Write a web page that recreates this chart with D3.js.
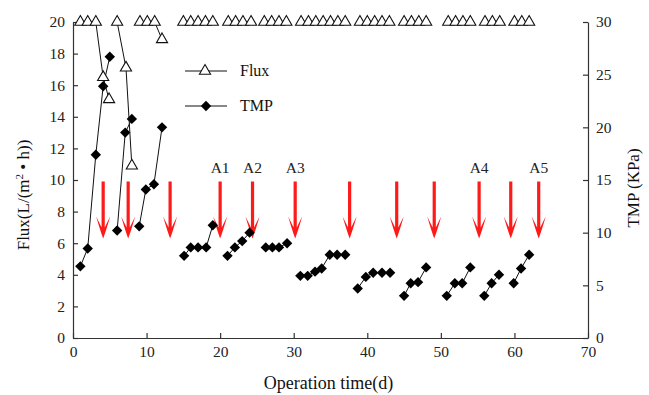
<!DOCTYPE html>
<html>
<head>
<meta charset="utf-8">
<script src="https://cdn.jsdelivr.net/npm/d3@7/dist/d3.min.js"></script>
<style>
  html, body { margin: 0; padding: 0; background: #fff; }
  svg { display: block; font-family: "Liberation Serif", "Times New Roman", serif; }
</style>
</head>
<body>
<svg id="chart" width="649" height="395"></svg>
<script>
/* Flux (left axis) and TMP (right axis) over operation time,
   with red arrows marking cleaning events. */

// Flux, L/(m2 h) — one list per filtration run: [day, flux]
var fluxRuns = [
  [[1, 20], [2, 20], [3.1, 20], [4.1, 16.5], [4.9, 15.1]],
  [[6, 20], [7.2, 17.1], [8, 10.9]],
  [[9.1, 20], [10.1, 20], [11.1, 20], [12.1, 18.9]],
  [[15, 20], [16, 20], [17, 20], [18, 20], [19, 20]],
  [[21.1, 20], [22.1, 20], [23.1, 20], [24.2, 20]],
  [[26, 20], [27, 20], [28, 20], [29, 20]],
  [[31, 20], [32, 20], [33, 20], [34, 20], [35, 20], [36, 20], [37, 20]],
  [[39, 20], [40, 20], [41, 20], [42, 20], [43, 20]],
  [[45, 20], [46, 20], [47, 20], [48, 20]],
  [[51, 20], [52, 20], [53, 20], [54, 20]],
  [[56, 20], [57, 20], [58, 20]],
  [[60, 20], [61, 20], [62, 20]]
];

// TMP, KPa — one list per filtration run: [day, tmp]
var tmpRuns = [
  [[1, 6.8], [2, 8.5], [3.1, 17.4], [4.1, 23.9], [5, 26.7]],
  [[6, 10.2], [7.1, 19.5], [8, 20.8]],
  [[9, 10.6], [9.9, 14.1], [11, 14.6], [12.1, 20.0]],
  [[15.1, 7.8], [16, 8.6], [17, 8.6], [18.1, 8.6], [19, 10.7]],
  [[21, 7.8], [22, 8.6], [23, 9.2], [24, 10.0]],
  [[26.2, 8.6], [27.1, 8.6], [28, 8.6], [29.1, 9.0]],
  [[30.9, 5.9], [31.9, 5.9], [32.9, 6.3], [33.8, 6.6], [34.9, 7.9], [35.9, 7.9], [37, 7.9]],
  [[38.7, 4.7], [39.8, 5.8], [40.8, 6.2], [42, 6.2], [43.1, 6.2]],
  [[45, 4.0], [45.9, 5.2], [46.9, 5.3], [48, 6.7]],
  [[50.8, 4.0], [51.9, 5.2], [52.9, 5.2], [54, 6.7]],
  [[55.9, 4.0], [56.9, 5.2], [57.9, 6.0]],
  [[59.9, 5.2], [60.9, 6.6], [62, 7.9]]
];

// cleaning arrows: day and optional label
var arrowDays   = [4.1, 7.5, 13.2, 20, 24.4, 30.2, 37.6, 44.0, 49.1, 55.2, 59.5, 63.3];
var arrowLabels = ['', '', '', 'A1', 'A2', 'A3', '', '', '', 'A4', '', 'A5'];
var arrowTop = 9.9, arrowTip = 6.3;   // in flux units

var xTicks    = [0, 10, 20, 30, 40, 50, 60, 70];
var fluxTicks = [0, 2, 4, 6, 8, 10, 12, 14, 16, 18, 20];
var tmpTicks  = [0, 5, 10, 15, 20, 25, 30];

var svg = d3.select('#chart');
var L = 73, R = 588, T = 22, B = 338;

var x  = d3.scaleLinear().domain([0, 70]).range([L, R]);
var yF = d3.scaleLinear().domain([0, 20]).range([B, T]);
var yT = d3.scaleLinear().domain([0, 30]).range([B, T]);

/* axes */
var axisColor = '#333';
function styleAxis(g) {
  g.select('.domain').attr('stroke', axisColor).attr('stroke-width', 1.2);
  g.selectAll('.tick line').attr('stroke', axisColor).attr('stroke-width', 1.2);
  g.selectAll('.tick text').attr('fill', '#222').style('font-size', '15.5px')
    .style('font-family', '"Liberation Serif", serif');
}

svg.append('g').attr('transform', 'translate(0,' + B + ')')
  .call(d3.axisBottom(x).tickValues(xTicks).tickSizeInner(-5).tickSizeOuter(0).tickPadding(8))
  .call(styleAxis);

svg.append('g').attr('transform', 'translate(' + L + ',0)')
  .call(d3.axisLeft(yF).tickValues(fluxTicks).tickSizeInner(-5).tickSizeOuter(0).tickPadding(8))
  .call(styleAxis);

svg.append('g').attr('transform', 'translate(' + R + ',0)')
  .call(d3.axisRight(yT).tickValues(tmpTicks).tickSizeInner(-5).tickSizeOuter(0).tickPadding(8))
  .call(styleAxis);

/* axis titles */
svg.append('text').attr('x', (L + R) / 2 - 2).attr('y', 389)
  .attr('text-anchor', 'middle').style('font-size', '18px').attr('fill', '#111')
  .text('Operation time(d)');

var yTitle = svg.append('text')
  .attr('transform', 'translate(29,195) rotate(-90)')
  .attr('text-anchor', 'middle').style('font-size', '17px').attr('fill', '#111');
yTitle.append('tspan').text('Flux(L/(m');
yTitle.append('tspan').attr('dy', -6).style('font-size', '11px').text('2');
yTitle.append('tspan').attr('dy', 6).text(' \u2022 h))');

svg.append('text')
  .attr('transform', 'translate(639,188) rotate(-90)')
  .attr('text-anchor', 'middle').style('font-size', '17px').attr('fill', '#111')
  .text('TMP (KPa)');

/* arrows */
var arrowG = svg.append('g');
arrowDays.forEach(function (d, i) {
  var cx = x(d), top = yF(arrowTop), tip = yF(arrowTip);
  var barb = tip - 22, notch = tip - 11;
  arrowG.append('path')
    .attr('d', 'M' + (cx - 1.6) + ',' + top +
               'L' + (cx + 1.6) + ',' + top +
               'L' + (cx + 1.6) + ',' + notch +
               'Q' + (cx + 3) + ',' + (barb + 8) + ' ' + (cx + 7) + ',' + barb +
               'Q' + (cx + 3) + ',' + (tip - 8) + ' ' + cx + ',' + tip +
               'Q' + (cx - 3) + ',' + (tip - 8) + ' ' + (cx - 7) + ',' + barb +
               'Q' + (cx - 3) + ',' + (barb + 8) + ' ' + (cx - 1.6) + ',' + notch + 'Z')
    .attr('fill', '#ff1a1a');
  if (arrowLabels[i]) {
    arrowG.append('text').attr('x', cx).attr('y', top - 9)
      .attr('text-anchor', 'middle').style('font-size', '15.5px').attr('fill', '#222')
      .text(arrowLabels[i]);
  }
});

/* series */
var triSym = d3.symbol().type(d3.symbolTriangle).size(54);
var diaSym = d3.symbol().type(d3.symbolSquare).size(54);

var fluxLine = d3.line().x(function (p) { return x(p[0]); }).y(function (p) { return yF(p[1]); });
var tmpLine  = d3.line().x(function (p) { return x(p[0]); }).y(function (p) { return yT(p[1]); });

var tmpG = svg.append('g');
tmpRuns.forEach(function (run) {
  tmpG.append('path').attr('d', tmpLine(run))
    .attr('fill', 'none').attr('stroke', '#111').attr('stroke-width', 1);
  tmpG.selectAll(null).data(run).enter().append('path')
    .attr('d', diaSym)
    .attr('transform', function (p) { return 'translate(' + x(p[0]) + ',' + yT(p[1]) + ') rotate(45)'; })
    .attr('fill', '#000');
});

var fluxG = svg.append('g');
fluxRuns.forEach(function (run) {
  fluxG.append('path').attr('d', fluxLine(run))
    .attr('fill', 'none').attr('stroke', '#111').attr('stroke-width', 1);
  fluxG.selectAll(null).data(run).enter().append('path')
    .attr('d', triSym)
    .attr('transform', function (p) { return 'translate(' + x(p[0]) + ',' + yF(p[1]) + ')'; })
    .attr('fill', '#fff').attr('stroke', '#111').attr('stroke-width', 1.1);
});

/* legend */
var lg = svg.append('g');
var legendItems = [
  { name: 'Flux', y: 71, sym: 'tri' },
  { name: 'TMP',  y: 106, sym: 'dia' }
];
legendItems.forEach(function (it) {
  lg.append('line').attr('x1', 185).attr('x2', 227).attr('y1', it.y).attr('y2', it.y)
    .attr('stroke', '#111').attr('stroke-width', 1);
  if (it.sym === 'tri') {
    lg.append('path').attr('d', triSym).attr('transform', 'translate(205,' + it.y + ')')
      .attr('fill', '#fff').attr('stroke', '#111').attr('stroke-width', 1.1);
  } else {
    lg.append('path').attr('d', diaSym).attr('transform', 'translate(206,' + it.y + ') rotate(45)')
      .attr('fill', '#000');
  }
  lg.append('text').attr('x', 240).attr('y', it.y + 5).style('font-size', '16px')
    .attr('fill', '#111').text(it.name);
});
</script>
</body>
</html>
